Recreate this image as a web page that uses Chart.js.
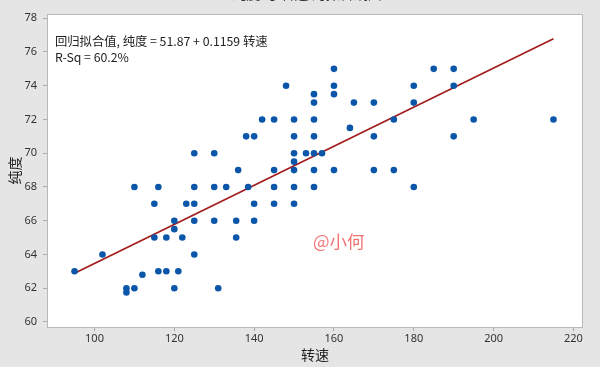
<!DOCTYPE html>
<html>
<head>
<meta charset="utf-8">
<script src="https://cdn.jsdelivr.net/npm/chart.js@4"></script>
<style>
  body { margin: 0; background: #e5e5e5; }
  #wrap { width: 600px; height: 367px; }
</style>
</head>
<body>
<div id="wrap"><canvas id="miGrafico" width="600" height="367"></canvas></div>
<script>
// 转速 / 纯度 数据
const speed = [95, 102, 108, 108, 110, 110, 112, 115, 115, 116, 116, 118, 118, 120, 120, 120, 121, 122, 123,
  125, 125, 125, 125, 125, 130, 130, 130, 131, 133, 135.5, 135.5, 136, 138, 138.5, 140, 140, 140, 142,
  145, 145, 145, 145, 148, 150, 150, 150, 150, 150, 150, 150, 153, 155, 155, 155, 155, 155, 155, 155,
  157, 160, 160, 160, 160, 164, 165, 170, 170, 170, 175, 175, 180, 180, 180, 185, 190, 190, 190, 195, 215];
const purity = [63, 64, 62, 61.75, 62, 68, 62.8, 67, 65, 68, 63, 65, 63, 66, 65.5, 62, 63, 65, 67,
  70, 68, 67, 66, 64, 70, 68, 66, 62, 68, 66, 65, 69, 71, 68, 71, 67, 66, 72,
  72, 69, 68, 67, 74, 72, 71, 70, 69.5, 69, 68, 67, 70, 73.5, 73, 72, 71, 70, 69, 68,
  70, 75, 74, 73.5, 69, 71.5, 73, 73, 71, 69, 72, 69, 74, 73, 68, 75, 75, 74, 71, 72, 72];

// 回归方程
const intercept = 51.87;
const slope = 0.1159;
const fitX = [95, 215];
const rSq = '60.2%';

const xTicks = [100, 120, 140, 160, 180, 200, 220];
const yTicks = [60, 62, 64, 66, 68, 70, 72, 74, 76, 78];

const puntos = speed.map((v, i) => ({ x: v, y: purity[i] }));
const linea = fitX.map(v => ({ x: v, y: intercept + slope * v }));

const fondo = {
  id: 'fondo',
  beforeDraw(chart) {
    const { ctx, chartArea: a } = chart;
    ctx.save();
    ctx.fillStyle = '#e5e5e5';
    ctx.fillRect(0, 0, chart.width, chart.height);
    ctx.fillStyle = '#ffffff';
    ctx.fillRect(a.left, a.top, a.right - a.left, a.bottom - a.top);
    // titulo cortado arriba
    ctx.fillStyle = '#333';
    ctx.font = '14px "Noto Sans CJK SC"';
    ctx.textAlign = 'center';
    ctx.textBaseline = 'alphabetic';
    ctx.fillText('纯度 与 转速 的拟合线图', 307, -1);
    ctx.restore();
  },
  afterDraw(chart) {
    const { ctx, chartArea: a } = chart;
    ctx.save();
    ctx.strokeStyle = '#b8b8b8';
    ctx.lineWidth = 1;
    ctx.strokeRect(a.left + 0.5, a.top + 0.5, a.right - a.left - 1, a.bottom - a.top);
    ctx.fillStyle = '#222';
    ctx.font = '12.3px "Noto Sans CJK SC"';
    ctx.textAlign = 'left';
    ctx.textBaseline = 'alphabetic';
    ctx.fillText('回归拟合值, 纯度 = ' + intercept + ' + ' + slope + ' 转速', a.left + 8, 46);
    ctx.fillText('R-Sq = ' + rSq, a.left + 8, 62);
    ctx.fillStyle = 'rgba(240, 80, 80, 0.8)';
    ctx.font = '17.5px "Noto Sans CJK SC"';
    ctx.fillText('@小何', 313, 248);
    ctx.restore();
  }
};

document.addEventListener('DOMContentLoaded', () => {
  const canvas = document.getElementById('miGrafico');
  new Chart(canvas.getContext('2d'), {
    type: 'scatter',
    data: {
      datasets: [{
        label: '纯度',
        data: puntos,
        backgroundColor: '#0b56a8',
        borderWidth: 0,
        pointRadius: 3.3
      }, {
        type: 'line',
        label: '拟合',
        data: linea,
        borderColor: '#a21c1c',
        borderWidth: 1.7,
        pointRadius: 0,
        fill: false
      }]
    },
    options: {
      responsive: false,
      animation: false,
      layout: { padding: { top: 14, right: 17, bottom: 0, left: 0 } },
      plugins: { legend: { display: false }, tooltip: { enabled: false } },
      scales: {
        x: {
          type: 'linear',
          min: 88.1,
          max: 222.4,
          afterBuildTicks: s => { s.ticks = xTicks.map(v => ({ value: v })); },
          afterFit: s => { s.height = 40; },
          grid: { drawOnChartArea: false, drawTicks: true, tickLength: 4, color: '#aaa' },
          border: { display: false },
          ticks: { color: '#333', font: { family: 'Noto Sans', size: 11 }, padding: 1 },
          title: { display: true, text: '转速', color: '#222', font: { family: 'Noto Sans CJK SC', size: 14 }, padding: { top: 4, bottom: 4 } }
        },
        y: {
          min: 59.7,
          max: 78.25,
          afterBuildTicks: s => { s.ticks = yTicks.map(v => ({ value: v })); },
          afterFit: s => { s.width = 47; },
          grid: { drawOnChartArea: false, drawTicks: true, tickLength: 4, color: '#aaa' },
          border: { display: false },
          ticks: { color: '#333', font: { family: 'Noto Sans', size: 11 }, padding: 6 },
          title: { display: true, text: '纯度', color: '#222', font: { family: 'Noto Sans CJK SC', size: 14 }, padding: { top: 6, bottom: 6 } }
        }
      }
    },
    plugins: [fondo]
  });
});
</script>
</body>
</html>
